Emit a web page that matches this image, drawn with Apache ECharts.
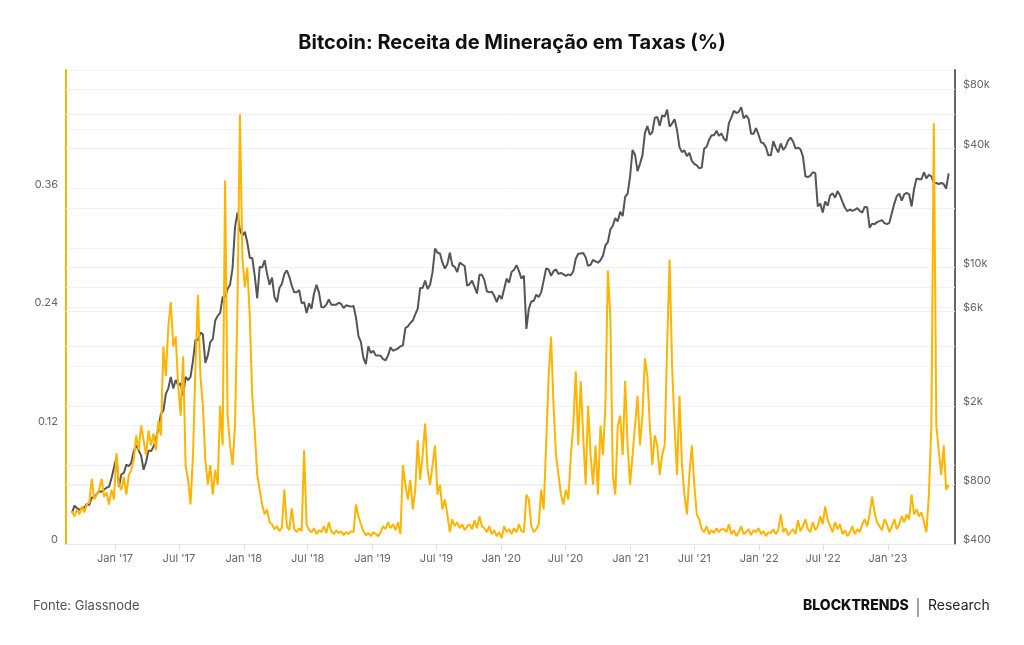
<!DOCTYPE html>
<html><head><meta charset="utf-8">
<script src="https://cdn.jsdelivr.net/npm/echarts@6/dist/echarts.min.js"></script>
<style>html,body{margin:0;padding:0;background:#fff}#c{width:1024px;height:645px}</style>
</head><body><div id="c"></div>
<script>
// Weekly samples starting 2016-09-01, one every 7 days
const startYear = 2016, startMonth = 8, startDay = 1, stepDays = 7;

// BTC price (USD), right log axis
const price2016 = [575,625,608,595,605,612,637,630,688,687,715,740,735,755,770,780,860,975];
const price2017 = [1100,780,900,915,1010,990,1030,1180,1260,1190,1120,950,1040,1190,1180,1240,1350,1540,1820,1890,2300,2450,2800,2450,2700,2550,2600,2250,2800,2700,2800,3400,4300,4300,4700,4600,3300,3600,4200,4350,5400,5700,5900,7100,7100,7800,8200,9900,16000,19000,15500,14500];
const price2018 = [15200,13400,11200,11200,9100,7000,10100,10000,10900,9300,8200,8900,7100,6700,7900,8300,9300,9700,9000,8100,7500,7500,7700,6600,6700,5900,6600,6200,7400,8200,7500,6300,6300,6500,6900,6500,6500,6500,6650,6550,6250,6450,6400,6350,6400,5600,4500,4200,3500,3250,4000,3700];
const price2019 = [3800,3600,3600,3580,3450,3400,3600,3950,3800,3850,3900,4000,4050,4950,5050,5250,5400,5800,6200,7900,7900,8600,7800,8200,9500,12500,11900,11800,10600,9900,10400,11900,10300,10100,9500,10600,10400,10200,8100,8250,8600,8000,7400,9200,9200,8650,7600,7500,7550,7200,6700,7250];
const price2020 = [6950,7800,8800,8400,9500,9750,10300,9600,8800,9100,4900,6200,6750,6800,7300,7100,7500,8600,9900,9800,9100,9600,9800,9300,9400,9250,9100,9250,9150,9600,11100,11750,11800,11850,11300,10200,10350,10950,10750,10600,10900,11500,12950,13450,15600,16300,17800,17150,19200,18250,22800,23700,29000];
const price2021 = [39400,37300,30800,33500,37000,47900,52100,47000,48400,57300,57800,52300,59000,58000,63000,51700,53600,56400,49700,40700,38400,39200,36700,38100,34700,33500,32900,31800,32100,40000,40900,44400,46700,46800,49300,46400,47800,44900,43800,53800,57400,62200,60600,61400,64900,56900,58900,56500,47600,47600,50800,47100];
const price2022 = [43100,42600,40700,37000,37000,43600,40500,38300,42500,39400,40900,44000,45500,43500,40000,40500,39700,36500,29000,28700,29200,30400,30100,20400,21100,19000,21600,20600,23200,23800,22600,24400,23200,21500,20100,19300,19700,19400,19600,20000,19400,19000,20300,20200,15900,16700,16600,17000,17200,17400,16800,16600];
const price2023 = [16850,18900,21100,23000,23700,21800,23500,23900,23500,20400,25000,28300,28000,28000,30400,28300,29500,29000,26900,26800,26500,26800,26500,25100,30000];

// Miner revenue from fees (fraction), left axis
const fee2016 = [0.033,0.028,0.035,0.03,0.038,0.032,0.04,0.042,0.066,0.045,0.05,0.055,0.066,0.048,0.052,0.04,0.055,0.045];
const fee2017 = [0.092,0.06,0.055,0.068,0.05,0.07,0.075,0.085,0.11,0.095,0.12,0.105,0.09,0.115,0.1,0.112,0.095,0.125,0.11,0.2,0.17,0.22,0.245,0.2,0.21,0.16,0.13,0.19,0.08,0.065,0.04,0.09,0.18,0.252,0.17,0.14,0.085,0.06,0.08,0.05,0.075,0.06,0.14,0.1,0.368,0.13,0.1,0.08,0.12,0.24,0.435,0.29];
const fee2018 = [0.26,0.28,0.23,0.15,0.115,0.07,0.055,0.04,0.03,0.035,0.022,0.02,0.015,0.018,0.013,0.017,0.055,0.018,0.014,0.036,0.015,0.012,0.016,0.013,0.095,0.02,0.014,0.012,0.016,0.01,0.014,0.012,0.018,0.011,0.022,0.013,0.01,0.014,0.011,0.013,0.009,0.012,0.01,0.013,0.012,0.04,0.028,0.02,0.013,0.009,0.011,0.008];
const fee2019 = [0.012,0.01,0.008,0.012,0.018,0.015,0.022,0.016,0.02,0.014,0.022,0.01,0.08,0.06,0.045,0.065,0.035,0.055,0.105,0.065,0.09,0.122,0.075,0.06,0.08,0.1,0.05,0.06,0.035,0.045,0.03,0.012,0.025,0.018,0.022,0.016,0.02,0.014,0.018,0.02,0.015,0.024,0.016,0.028,0.018,0.016,0.012,0.018,0.01,0.014,0.008,0.012];
const fee2020 = [0.006,0.018,0.012,0.015,0.01,0.016,0.012,0.02,0.013,0.012,0.05,0.045,0.018,0.012,0.015,0.02,0.055,0.035,0.1,0.17,0.21,0.14,0.09,0.07,0.05,0.04,0.055,0.045,0.09,0.12,0.175,0.1,0.165,0.11,0.06,0.14,0.09,0.06,0.1,0.05,0.12,0.09,0.14,0.277,0.23,0.07,0.05,0.12,0.13,0.09,0.165,0.1,0.06];
const fee2021 = [0.09,0.12,0.15,0.1,0.13,0.188,0.17,0.12,0.08,0.11,0.1,0.07,0.09,0.1,0.2,0.288,0.18,0.12,0.07,0.15,0.08,0.05,0.03,0.07,0.1,0.06,0.03,0.025,0.015,0.012,0.018,0.01,0.014,0.011,0.016,0.012,0.015,0.015,0.012,0.02,0.01,0.014,0.008,0.012,0.018,0.01,0.012,0.015,0.009,0.014,0.012,0.016];
const fee2022 = [0.01,0.013,0.008,0.012,0.011,0.015,0.01,0.014,0.03,0.012,0.016,0.009,0.012,0.015,0.01,0.024,0.013,0.018,0.025,0.015,0.012,0.022,0.014,0.018,0.028,0.02,0.038,0.025,0.018,0.012,0.022,0.015,0.02,0.01,0.014,0.008,0.012,0.018,0.01,0.015,0.012,0.02,0.025,0.018,0.03,0.048,0.032,0.022,0.018,0.014,0.025,0.02];
const fee2023 = [0.012,0.018,0.025,0.015,0.02,0.028,0.022,0.03,0.025,0.05,0.03,0.035,0.028,0.032,0.022,0.012,0.05,0.12,0.426,0.12,0.095,0.07,0.1,0.055,0.06];

// Axis ticks
const xTickDates = ['2017-01-01','2017-07-01','2018-01-01','2018-07-01','2019-01-01','2019-07-01','2020-01-01','2020-07-01','2021-01-01','2021-07-01','2022-01-01','2022-07-01','2023-01-01'];
const priceLabelValues = [400, 800, 2000, 6000, 10000, 40000, 80000];
const priceGridValues = [800, 1000, 2000, 4000, 6000, 8000, 10000, 20000, 40000, 60000, 80000];
const monthNames = ['Jan','Feb','Mar','Apr','May','Jun','Jul','Aug','Sep','Oct','Nov','Dec'];

const prices = [].concat(price2016, price2017, price2018, price2019, price2020, price2021, price2022, price2023);
const fees = [].concat(fee2016, fee2017, fee2018, fee2019, fee2020, fee2021, fee2022, fee2023);
const dates = prices.map((_, i) => new Date(startYear, startMonth, startDay + i * stepDays).getTime());
const xTickValues = xTickDates.map(s => { const p = s.split('-'); return new Date(+p[0], +p[1] - 1, +p[2]).getTime(); });

const FONT = 'Inter, "Noto Sans", sans-serif';
const chart = echarts.init(document.getElementById('c'), null, {renderer: 'canvas'});

const markData = [];
priceGridValues.forEach(v => {
  if (priceLabelValues.indexOf(v) < 0) markData.push({yAxis: v, label: {show: false}});
});
priceLabelValues.forEach(v => {
  markData.push({
    yAxis: v,
    label: {
      show: true, position: 'end', distance: 8,
      formatter: '$' + (v >= 1000 ? (v / 1000) + 'k' : v),
      color: '#666', fontSize: 11, fontFamily: FONT,
      verticalAlign: 'bottom', lineHeight: 8
    },
    lineStyle: v === 400 ? {color: 'rgba(0,0,0,0)'} : undefined
  });
});

chart.setOption({
  animation: false,
  backgroundColor: '#fff',
  title: {
    text: 'Bitcoin: Receita de Mineração em Taxas (%)',
    left: 'center', top: 28,
    textStyle: {fontSize: 20, fontWeight: 700, fontFamily: FONT, color: '#111'}
  },
  grid: {left: 66, right: 69, top: 70, bottom: 101},
  xAxis: {
    type: 'value',
    min: new Date(2016, 7, 15).getTime(),
    max: new Date(2023, 6, 10).getTime(),
    axisLine: {show: true, lineStyle: {color: '#e6e6e6', width: 1}},
    axisTick: {show: true, length: 6, lineStyle: {color: '#e0e0e0'}, customValues: xTickValues},
    splitLine: {show: false},
    axisLabel: {
      color: '#666', fontSize: 11, fontFamily: FONT, margin: 9,
      customValues: xTickValues,
      formatter: function (val) {
        const d = new Date(val);
        return monthNames[d.getMonth()] + " '" + String(d.getFullYear()).slice(2);
      }
    }
  },
  yAxis: [
    {
      type: 'value', min: 0, max: 0.48, interval: 0.06, position: 'left',
      axisLine: {show: true, lineStyle: {color: '#FFB400', width: 2}},
      axisTick: {show: false},
      splitLine: {show: true, lineStyle: {color: '#f2f2f2', width: 1}},
      axisLabel: {
        color: '#666', fontSize: 11, fontFamily: FONT, margin: 8,
        verticalAlign: 'bottom', lineHeight: 8,
        formatter: function (v) {
          const c = Math.round(v * 100);
          if (c % 12 !== 0 || c >= 48) return '';
          return c === 0 ? '0' : (c / 100).toString();
        }
      }
    },
    {
      type: 'log', logBase: 10, min: 400, max: 100000, position: 'right',
      axisLine: {show: true, lineStyle: {color: '#666', width: 2}},
      axisTick: {show: false},
      splitLine: {show: false},
      axisLabel: {show: false}
    }
  ],
  series: [
    {
      name: 'Preço BTC', type: 'line', yAxisIndex: 1, z: 2,
      data: dates.map((d, i) => [d, prices[i]]),
      showSymbol: false, symbol: 'none',
      lineStyle: {color: '#555', width: 2},
      itemStyle: {color: '#555'},
      markLine: {
        silent: true, symbol: ['none', 'none'], animation: false, z: 1,
        lineStyle: {color: '#f0f0f0', width: 1, type: 'solid'},
        data: markData
      }
    },
    {
      name: 'Receita em taxas', type: 'line', yAxisIndex: 0, z: 3,
      data: dates.map((d, i) => [d, fees[i]]),
      showSymbol: false, symbol: 'none',
      lineStyle: {color: '#FFB400', width: 2},
      itemStyle: {color: '#FFB400'}
    }
  ],
  graphic: [
    {type: 'text', left: 33, top: 600, style: {text: 'Fonte: Glassnode', fontSize: 13, fontFamily: FONT, fill: '#555'}},
    {type: 'text', left: 803, top: 599, style: {text: 'BLOCKTRENDS', fontSize: 14, fontWeight: 800, fontFamily: FONT, fill: '#111'}},
    {type: 'line', shape: {x1: 918, y1: 598, x2: 918, y2: 617}, style: {stroke: '#444', lineWidth: 1}},
    {type: 'text', left: 928, top: 599, style: {text: 'Research', fontSize: 14, fontFamily: FONT, fill: '#222'}}
  ]
});
</script>
</body></html>
